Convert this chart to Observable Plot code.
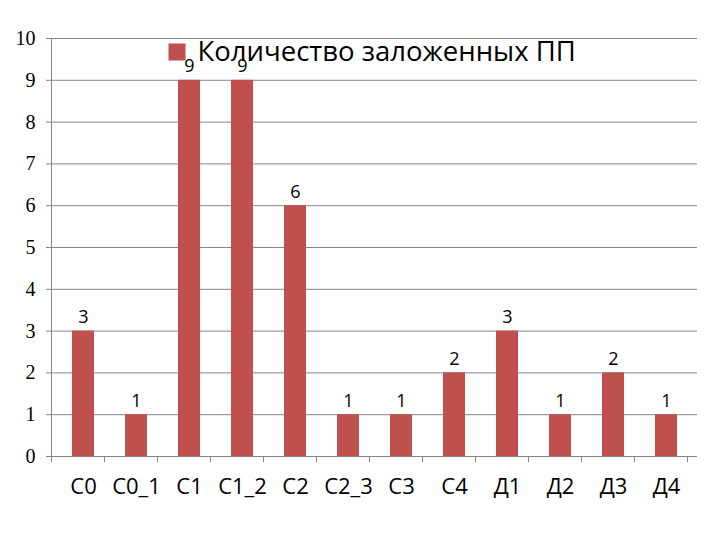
<!DOCTYPE html>
<html>
<head>
<meta charset="utf-8">
<script src="https://cdn.jsdelivr.net/npm/d3@7"></script>
<script src="https://cdn.jsdelivr.net/npm/@observablehq/plot@0.6"></script>
<style>
  html, body { margin: 0; padding: 0; background: #fff; }
</style>
</head>
<body>
<div id="chart"></div>
<script>
const categories = ["С0", "С0_1", "С1", "С1_2", "С2", "С2_3", "С3", "С4", "Д1", "Д2", "Д3", "Д4"];
const values = [3, 1, 9, 9, 6, 1, 1, 2, 3, 1, 2, 1];
const yTicks = [0, 1, 2, 3, 4, 5, 6, 7, 8, 9, 10];
const seriesName = "Количество заложенных ПП";

const data = categories.map((c, i) => ({category: c, value: values[i]}));
const barColor = "#C0504D";
const gridColor = "#868686";

const chart = Plot.plot({
  width: 720,
  height: 540,
  marginLeft: 51,
  marginRight: 23,
  marginTop: 38,
  marginBottom: 84,
  style: {background: "#fff", fontFamily: "'Open Sans', sans-serif", color: "#000"},
  x: {domain: categories, paddingInner: 0.59, paddingOuter: 0.295, label: null},
  y: {domain: [0, 10], ticks: yTicks, label: null},
  marks: [
    Plot.gridY(yTicks, {stroke: gridColor, strokeOpacity: 1, strokeWidth: 1}),
    Plot.axisY(yTicks, {tickSize: 5, tickPadding: 11, fontSize: 20, fontFamily: "'Liberation Serif', serif", stroke: gridColor, fill: "#000", label: null}),
    Plot.axisX({tickSize: 0, tickPadding: 22, fontSize: 22, fill: "#000", label: null}),
    Plot.barY(data, {x: "category", y: "value", fill: barColor}),
    Plot.dot([seriesName], {frameAnchor: "top-left", dx: 125.5, dy: 13.5, symbol: "square", r: 9.6, fill: barColor, stroke: "none"}),
    Plot.text([seriesName], {frameAnchor: "top-left", dx: 146, dy: 14, text: d => d, textAnchor: "start", lineAnchor: "middle", fontSize: 27.5, fill: "#000"}),
    Plot.text(data, {x: "category", y: "value", text: "value", dy: -8, lineAnchor: "bottom", fontSize: 18, fill: "#000"})
  ]
});

document.getElementById("chart").appendChild(chart);

// axis line and category-boundary ticks, computed from the Plot scales
const xs = chart.scale("x");
const ys = chart.scale("y");
const y0 = ys.apply(0);
const y10 = ys.apply(10);
const x0 = xs.range[0];
const svg = d3.select(chart);
const g = svg.append("g").attr("stroke", gridColor).attr("stroke-width", 1);
g.append("line").attr("x1", x0 + 0.5).attr("x2", x0 + 0.5).attr("y1", y10).attr("y2", y0);
for (let i = 0; i <= categories.length; i++) {
  const xb = x0 + i * xs.step;
  g.append("line").attr("x1", xb + 0.5).attr("x2", xb + 0.5).attr("y1", y0).attr("y2", y0 + 6);
}
</script>
</body>
</html>
